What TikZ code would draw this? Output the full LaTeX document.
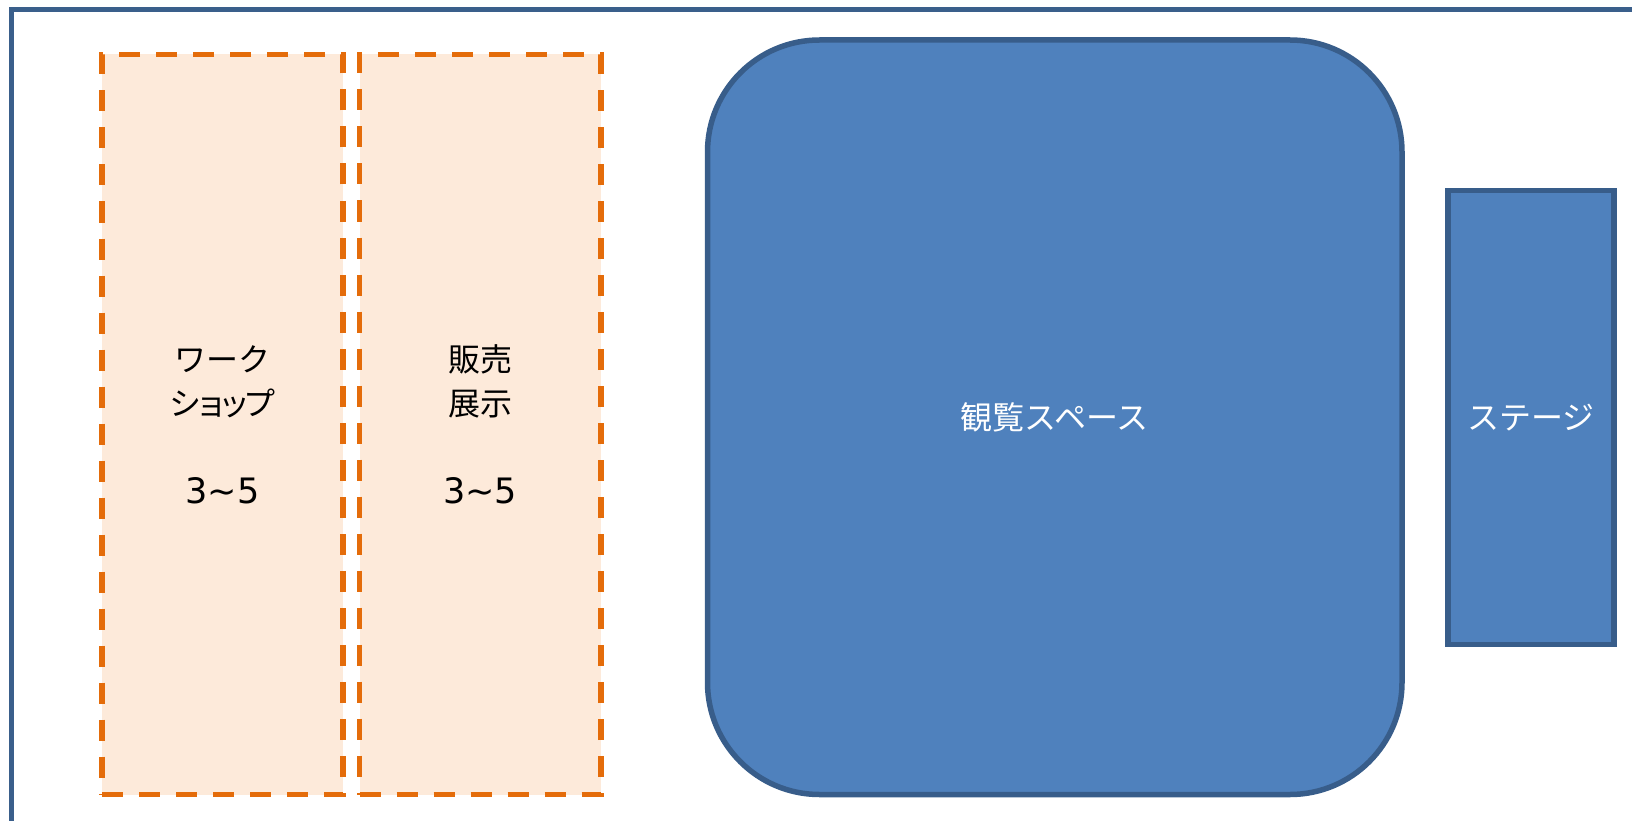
\documentclass[tikz,border=0pt]{standalone}
\usepackage{fontspec}
\newfontfamily\jpfont{Noto Sans CJK JP}
\newfontfamily\numfont{DejaVu Sans}
\definecolor{frameblue}{HTML}{3A5F8B}
\definecolor{boxblue}{HTML}{4F81BD}
\definecolor{edgeblue}{HTML}{385D8A}
\definecolor{dashorange}{HTML}{E46C0A}
\definecolor{peach}{HTML}{FDEADA}
\newcommand{\rangetext}{{\fontsize{35}{44}\selectfont\numfont 3\string~5}}
\tikzset{
  labeltext/.style={font=\fontsize{32}{44}\selectfont\jpfont, align=center},
  boothbox/.style={rectangle, draw=dashorange, fill=peach, line width=5.5pt,
    dash pattern=on 21pt off 16pt, inner sep=0pt, labeltext, text=black},
  areabox/.style={draw=edgeblue, fill=boxblue, line width=5.5pt, inner sep=0pt,
    labeltext, text=white},
  framestyle/.style={draw=frameblue, line width=5pt}
}
\begin{document}
\begin{tikzpicture}[x=1pt,y=-1pt]
\useasboundingbox (0,0) rectangle (1632,821);
\coordinate (fbl) at (11.5,830);
\coordinate (ftl) at (11.5,10);
\coordinate (ftr) at (1640,10);
\draw[framestyle] (fbl) -- (ftl) -- (ftr);

\node[boothbox, minimum width=241pt, minimum height=740pt] (ws) at (222.5,424.5)
  {ワーク\\シ\kern-6pt ョ\kern-9pt ッ\kern-7pt プ\\\mbox{}\\\rangetext};
\node[boothbox, minimum width=241.5pt, minimum height=740pt] (sales) at (480.25,424.5)
  {販売\\展示\\\mbox{}\\\rangetext};

\node[areabox, rectangle, rounded corners=112pt, minimum width=694.5pt, minimum height=754.5pt] (view) at (1054.75,417.25)
  {観覧スペース};
\node[areabox, rectangle, minimum width=166pt, minimum height=454pt] (stage) at (1531,417.5)
  {ステージ};
\end{tikzpicture}
\end{document}
